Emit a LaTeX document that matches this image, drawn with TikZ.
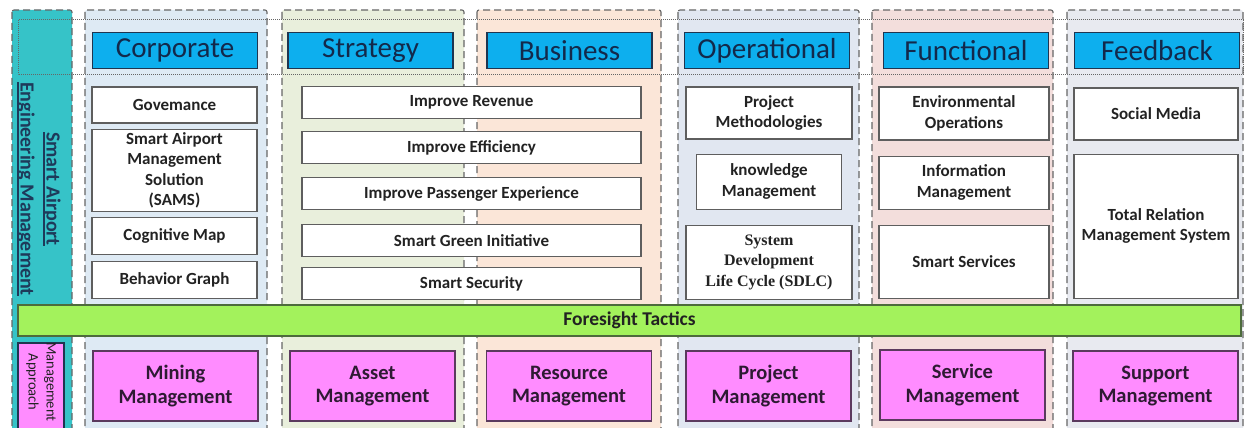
\documentclass[tikz,border=0pt]{standalone}
\usepackage{fontspec}
\setmainfont{Carlito}
\newfontfamily\serifbold{Liberation Serif}
\usepackage{xcolor}
\usetikzlibrary{positioning}

% underline with a heavier rule for the rotated title
\newcommand{\thickul}[1]{\setbox0\hbox{#1}\leavevmode\rlap{\rule[-3.5pt]{\wd0}{1.3pt}}\box0}

% --- Colours ---
\definecolor{headblue}{HTML}{0DAFEE}
\definecolor{headline}{HTML}{1F3550}
\definecolor{headtext}{HTML}{13294B}
\definecolor{itemline}{HTML}{5E5E5E}
\definecolor{itemtext}{HTML}{222222}
\definecolor{colline}{HTML}{666666}
\definecolor{tealfill}{HTML}{36C3C8}
\definecolor{titletext}{HTML}{1E3A5A}
\definecolor{barfill}{HTML}{A3F25C}
\definecolor{barline}{HTML}{4D6B3C}
\definecolor{pinkfill}{HTML}{FF8CFF}
\definecolor{pinkline}{HTML}{5B3A5E}
\definecolor{pinktext}{HTML}{2E1A33}
\definecolor{corpfill}{HTML}{DEEAF4}
\definecolor{stratfill}{HTML}{E9EFDC}
\definecolor{busfill}{HTML}{FBE6D8}
\definecolor{opfill}{HTML}{E1E7F1}
\definecolor{funcfill}{HTML}{F3DEDC}
\definecolor{feedfill}{HTML}{E8EAF0}

\begin{document}
\begin{tikzpicture}[
        x=1pt, y=-1pt,
        % dashed outline of every column
        column/.style={draw=colline, line width=1.1pt, dash pattern=on 7pt off 4pt, rounded corners=2pt},
        header/.style={draw=headline, fill=headblue, line width=1.1pt, text=headtext,
            minimum width=165pt, minimum height=36pt, inner sep=0pt,
            font=\fontsize{29}{32}\selectfont},
        item/.style={draw=itemline, fill=white, line width=1.1pt, text=itemtext,
            align=center, inner sep=1pt, font=\fontsize{17}{20.5}\selectfont\bfseries},
        stratitem/.style={item, minimum width=339pt, minimum height=32pt},
        mgmt/.style={draw=pinkline, fill=pinkfill, line width=1.1pt, text=pinktext,
            align=center, minimum width=165pt, minimum height=70pt,
            font=\fontsize{20.5}{23.5}\selectfont\bfseries}
    ]

    \useasboundingbox (0,0) rectangle (1245,428);
    \clip (0,0) rectangle (1245,428);

    % --- Columns ---
    \foreach \xl/\xr/\shade in {85/267/corpfill, 282/464/stratfill, 477/661/busfill,
                                678/859/opfill, 872/1053/funcfill, 1067/1243/feedfill}
        \draw[column, fill=\shade] (\xl,10) rectangle (\xr,440);

    % left band
    \draw[column, fill=tealfill] (12,10) rectangle (72,440);
    \node[rotate=-90, align=center, text=titletext, font=\fontsize{20}{26}\selectfont\bfseries]
        (title) at (39,189) {\thickul{Smart Airport}\\\thickul{Engineering Management}};

    % header band
    \draw[draw=colline, densely dotted, line width=1pt] (18,20) rectangle (1243,75);

    % --- Headers ---
    \node[header] (corp)  at (175,50.5)   {Corporate};
    \node[header] (strat) at (370.5,50.5) {Strategy};
    \node[header] (bus)   at (569.5,50.5) {Business};
    \node[header] (oper)  at (767,50.5)   {Operational};
    \node[header] (func)  at (966,50.5)   {Functional};
    \node[header] (feed)  at (1157,50.5)  {Feedback};

    % --- Corporate ---
    \node[item, minimum width=165pt, minimum height=36pt] (gov) at (174.5,105) {Govemance};
    \node[item, minimum width=165pt, minimum height=82pt, below=5pt of gov] (sams)
        {Smart Airport\\Management\\Solution\\(SAMS)};
    \node[item, minimum width=165pt, minimum height=37pt, below=5pt of sams] (cogmap) {Cognitive Map};
    \node[item, minimum width=165pt, minimum height=37pt, below=6pt of cogmap] (behav) {Behavior Graph};

    % --- Strategy / Business ---
    \node[stratitem] (revenue) at (471.5,102.5) {Improve Revenue};
    \node[stratitem, below=12pt of revenue] (effic) {Improve Efficiency};
    \node[stratitem, below=13pt of effic] (passenger) {Improve Passenger Experience};
    \node[stratitem, below=14pt of passenger] (green) {Smart Green Initiative};
    \node[stratitem, below=10pt of green] (security) {Smart Security};

    % --- Operational ---
    \node[item, minimum width=166pt, minimum height=52pt] (projmeth) at (769,113) {Project\\Methodologies};
    \node[item, minimum width=145pt, minimum height=55pt, below=14pt of projmeth] (knowmgmt)
        {knowledge\\Management};
    \node[item, minimum width=166pt, minimum height=74pt, below=15pt of knowmgmt,
        font=\fontsize{16}{20.5}\serifbold\bfseries] (sdlc)
        {System\\Development\\Life Cycle (SDLC)};

    % --- Functional ---
    \node[item, minimum width=170pt, minimum height=53pt] (envops) at (964,113.5) {Environmental\\Operations};
    \node[item, minimum width=170pt, minimum height=53pt, below=15pt of envops] (infomgmt)
        {Information\\Management};
    \node[item, minimum width=170pt, minimum height=73pt, below=15pt of infomgmt] (smartsvc) {Smart Services};

    % --- Feedback ---
    \node[item, minimum width=164pt, minimum height=52pt] (social) at (1156,114) {Social Media};
    \node[item, minimum width=164pt, minimum height=144pt, below=13pt of social] (trms)
        {Total Relation\\Management System};

    % --- Foresight bar ---
    \node[draw=barline, fill=barfill, line width=1.1pt, minimum width=1223pt, minimum height=31pt,
        text=itemtext, font=\fontsize{19.5}{22}\selectfont\bfseries] (tactics) at (629.5,320.5)
        {Foresight Tactics};

    % --- Management approach row ---
    \draw[draw=headline, fill=pinkfill, line width=1.1pt] (18,343) rectangle (64,440);
    \node[rotate=-90, align=center, text=itemtext, font=\fontsize{14.5}{18}\selectfont]
        (approach) at (41,382) {Management\\Approach};

    \node[mgmt] (mining)   at (175.5,386) {Mining\\Management};
    \node[mgmt] (asset)    at (372.5,386) {Asset\\Management};
    \node[mgmt] (resource) at (569,386)   {Resource\\Management};
    \node[mgmt] (project)  at (768.5,386) {Project\\Management};
    \node[mgmt] (service)  at (962.5,385) {Service\\Management};
    \node[mgmt] (support)  at (1155.5,386) {Support\\Management};

\end{tikzpicture}
\end{document}
